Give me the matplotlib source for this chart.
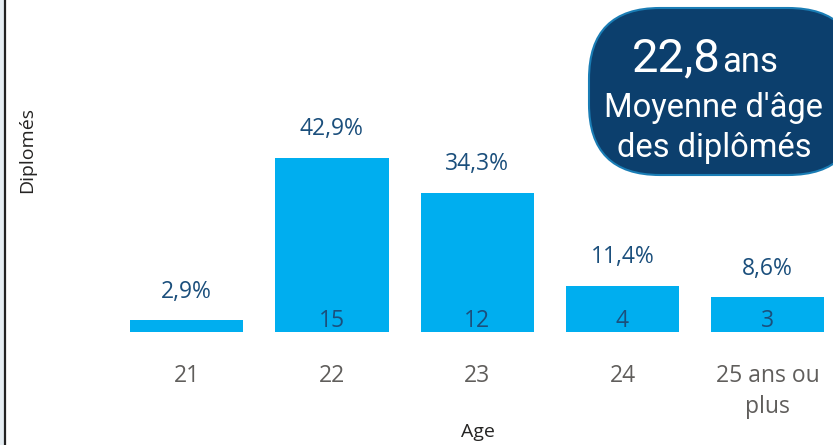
import numpy as np
import matplotlib
matplotlib.use('Agg')
from matplotlib import pyplot as plt
from matplotlib.patches import FancyBboxPatch, Rectangle
from matplotlib.lines import Line2D

# Data
ages = ['21', '22', '23', '24', '25 ans ou\nplus']
counts = [1, 15, 12, 4, 3]
percents = ['2,9%', '42,9%', '34,3%', '11,4%', '8,6%']
mean_age = '22,8'

barColor = '#00AEEF'
valueColor = '#1B4F7C'
tickColor = '#605E5C'
boxColor = '#0C3F6D'

W, H = 833, 445
fig = plt.figure(figsize=(W / 100, H / 100), dpi=100)
fig.patch.set_facecolor('white')

# axes spans from x=114px to the right edge, baseline at y=332px
ax = fig.add_axes([114 / W, 113 / H, 1 - 114 / W, 1 - 113 / H])
ax.set_facecolor('none')
x = np.arange(len(ages))
ax.bar(x, counts, width=0.78, color=barColor)
ax.set_xlim(-0.5, 4.449)
ax.set_ylim(0, 28.6)

for xi, c, p in zip(x, counts, percents):
    ax.annotate(p, (xi, c), xytext=(0, 20.5), textcoords='offset points',
                ha='center', va='center', fontsize=16.5, color=valueColor,
                family='Open Sans')
    if c > 1:
        ax.annotate(str(c), (xi, 0), xytext=(0, 8.2), textcoords='offset points',
                    ha='center', va='center', fontsize=16.5, color=valueColor,
                    family='Open Sans')

ax.set_xticks(x)
ax.set_xticklabels(ages, fontsize=16.5, color=tickColor, family='Open Sans',
                   linespacing=1.38)
ax.tick_params(axis='x', length=0, pad=23)
ax.set_yticks([])
for s in ax.spines.values():
    s.set_visible(False)

fig.text(478 / W, 1 - 432 / H, 'Age', ha='center', va='center', fontsize=14,
         color='#252423', family='Open Sans', fontweight='medium')
fig.text(27 / W, 1 - 150 / H, 'Diplomés', ha='center', va='center', fontsize=14,
         color='#252423', family='Open Sans', fontweight='medium', rotation=90)

# left border
fig.add_artist(Rectangle((0, 0), 4 / W, 1, transform=fig.transFigure,
                         color='#E6EEF3', zorder=0))
fig.add_artist(Line2D([5 / W, 5 / W], [0, 1], transform=fig.transFigure,
                      color='#222222', lw=1.6))

# mean age box
box = FancyBboxPatch((589 / W, 1 - 175 / H), 270 / W, 167 / H,
                     boxstyle='round,pad=0,rounding_size=0.085',
                     transform=fig.transFigure, facecolor=boxColor,
                     edgecolor='#1A7DB5', lw=1.5, mutation_aspect=W / H)
fig.add_artist(box)
fig.text(632 / W, 1 - 58 / H, mean_age, ha='left', va='center', fontsize=34,
         color='white', family='Roboto')
fig.text(722 / W, 1 - 63 / H, 'ans', ha='left', va='center', fontsize=25,
         color='white', family='Roboto')
fig.text(714 / W, 1 - 108 / H, "Moyenne d'âge", ha='center', va='center',
         fontsize=23.5, color='white', family='Roboto')
fig.text(714 / W, 1 - 148 / H, 'des diplômés', ha='center', va='center',
         fontsize=23.5, color='white', family='Roboto')

fig.savefig('out.png', dpi=100)
